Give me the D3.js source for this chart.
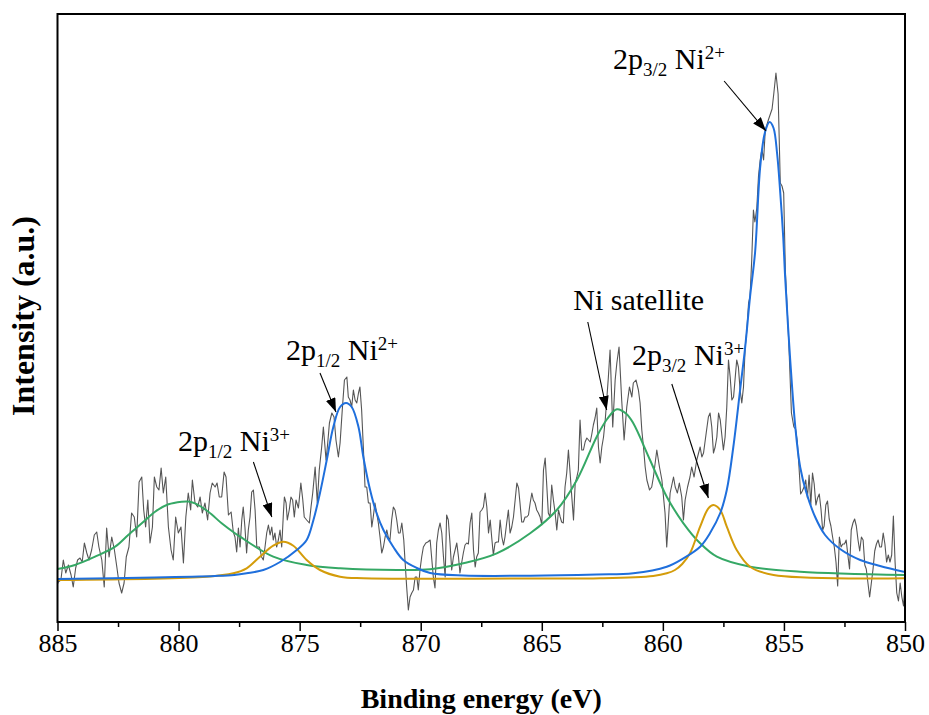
<!DOCTYPE html>
<html>
<head>
<meta charset="utf-8">
<script src="https://cdn.jsdelivr.net/npm/d3@7"></script>
<style>
  html, body { margin: 0; padding: 0; background: #fff; }
  svg { display: block; }
</style>
</head>
<body>
<svg id="chart" width="929" height="715"></svg>
<script>
// Ni 2p XPS spectrum: binding energy (eV) and measured intensity (a.u.)
const energy = [
  885.00,884.97,884.86,884.76,884.66,884.55,884.44,884.35,884.25,884.17,884.07,883.98,883.89,883.79,883.70,883.59,
  883.48,883.38,883.29,883.17,883.07,882.97,882.87,882.76,882.65,882.55,882.46,882.35,882.25,882.16,882.05,881.94,
  881.83,881.73,881.63,881.52,881.44,881.36,881.27,881.18,881.08,881.00,880.90,880.81,880.72,880.63,880.53,880.42,
  880.31,880.22,880.12,880.01,879.90,879.80,879.70,879.60,879.50,879.43,879.32,879.21,879.11,879.02,878.91,878.80,
  878.70,878.61,878.49,878.41,878.32,878.22,878.12,878.04,877.94,877.83,877.74,877.67,877.60,877.53,877.46,877.39,
  877.33,877.26,877.19,877.12,877.05,876.98,876.91,876.84,876.77,876.66,876.57,876.50,876.43,876.36,876.29,876.22,
  876.15,876.09,876.02,875.95,875.88,875.81,875.74,875.67,875.63,875.56,875.51,875.43,875.36,875.29,875.22,875.15,
  875.05,874.95,874.87,874.81,874.71,874.60,874.53,874.46,874.36,874.27,874.19,874.09,874.02,873.91,873.84,873.77,
  873.67,873.58,873.50,873.40,873.33,873.24,873.15,873.05,872.99,872.92,872.85,872.78,872.71,872.64,872.57,872.51,
  872.44,872.37,872.30,872.23,872.16,872.09,872.02,871.96,871.89,871.82,871.75,871.68,871.61,871.54,871.47,871.40,
  871.34,871.27,871.20,871.13,871.06,870.99,870.92,870.85,870.78,870.70,870.65,870.58,870.51,870.44,870.37,870.30,
  870.23,870.16,870.10,870.03,869.96,869.89,869.79,869.71,869.61,869.54,869.48,869.41,869.34,869.27,869.20,869.13,
  869.06,868.99,868.93,868.86,868.79,868.72,868.65,868.58,868.51,868.44,868.38,868.31,868.24,868.17,868.10,868.03,
  867.96,867.89,867.82,867.75,867.69,867.62,867.55,867.48,867.41,867.34,867.27,867.20,867.13,867.07,867.00,866.93,
  866.86,866.79,866.72,866.65,866.58,866.52,866.45,866.38,866.31,866.24,866.17,866.10,866.03,865.96,865.90,865.83,
  865.76,865.69,865.62,865.55,865.48,865.41,865.35,865.28,865.21,865.14,865.07,865.00,864.93,864.86,864.80,864.73,
  864.66,864.59,864.52,864.45,864.38,864.31,864.24,864.18,864.11,864.04,863.97,863.90,863.83,863.76,863.69,863.62,
  863.56,863.49,863.42,863.35,863.28,863.21,863.14,863.07,863.00,862.94,862.87,862.80,862.73,862.66,862.59,862.52,
  862.45,862.38,862.34,862.25,862.18,862.07,861.97,861.90,861.81,861.70,861.60,861.49,861.38,861.28,861.22,861.11,
  861.01,860.94,860.87,860.80,860.73,860.66,860.55,860.46,860.39,860.25,860.14,860.04,859.91,859.84,859.77,859.70,
  859.56,859.49,859.40,859.32,859.22,859.15,859.08,858.98,858.88,858.81,858.71,858.60,858.46,858.39,858.32,858.21,
  858.12,858.05,857.98,857.91,857.84,857.77,857.70,857.63,857.50,857.43,857.36,857.29,857.22,857.15,857.08,857.02,
  856.95,856.88,856.81,856.74,856.67,856.60,856.53,856.46,856.40,856.33,856.26,856.20,856.12,856.05,855.98,855.91,
  855.84,855.77,855.63,855.49,855.42,855.33,855.24,855.15,855.08,855.01,854.94,854.80,854.69,854.59,854.52,854.45,
  854.38,854.31,854.24,854.17,854.10,854.03,853.96,853.89,853.82,853.75,853.68,853.61,853.54,853.47,853.40,853.34,
  853.27,853.20,853.13,853.06,852.99,852.92,852.85,852.78,852.71,852.64,852.57,852.50,852.43,852.36,852.29,852.22,
  852.15,852.08,852.01,851.94,851.87,851.80,851.73,851.66,851.60,851.53,851.46,851.39,851.32,851.25,851.18,851.11,
  851.04,850.97,850.90,850.83,850.76,850.69,850.62,850.55,850.48,850.41,850.34,850.27,850.20,850.13,850.06,850.00
];
const counts = [
  38,40,42,62,49,57,47,35,54,62,64,60,79,69,62,72,
  87,90,75,62,35,94,65,85,72,55,39,29,39,65,75,109,
  105,85,140,145,112,95,122,79,95,145,135,132,154,129,145,95,
  72,62,105,89,95,59,105,129,112,142,119,115,125,109,119,102,
  129,139,135,139,125,125,150,145,107,110,90,85,70,94,75,102,
  115,95,69,92,105,130,132,112,75,75,65,62,75,89,97,87,
  95,82,89,75,82,92,75,109,125,119,102,112,125,122,105,122,
  114,139,122,105,102,99,115,129,155,119,152,175,195,162,179,199,
  209,205,182,165,179,212,242,245,225,222,215,232,222,219,229,235,
  212,175,135,135,119,119,95,105,119,109,99,85,69,75,85,92,
  85,82,102,115,112,102,89,89,99,82,62,35,12,25,29,32,
  45,45,32,52,65,75,79,80,82,62,45,34,79,92,99,89,
  65,45,107,102,79,52,65,72,79,65,49,59,69,77,79,78,
  99,109,72,55,65,69,110,112,115,129,115,89,102,85,67,79,
  80,80,102,85,77,85,99,112,89,95,105,122,139,134,119,100,
  100,105,105,107,119,129,122,119,112,109,105,97,152,164,139,109,
  105,137,122,109,92,112,105,100,99,135,149,172,149,125,102,139,
  144,152,202,172,172,180,184,182,180,187,197,204,214,175,159,175,
  185,202,215,245,272,195,242,259,275,222,182,215,235,225,239,242,
  232,219,192,175,155,142,132,135,145,172,155,142,109,75,102,129,
  145,135,129,139,125,102,122,135,145,155,145,162,175,165,169,189,
  205,209,195,169,175,185,209,202,172,185,215,262,245,222,225,242,
  262,255,232,219,235,275,292,319,325,362,412,400,414,446,462,473,
  462,492,503,513,528,549,528,439,436,429,351,280,209,195,193,181,
  156,128,131,135,142,124,147,117,149,138,117,124,128,113,92,96,
  117,121,103,96,85,75,60,36,85,75,78,78,82,67,53,92,
  99,103,96,82,71,85,82,57,53,39,25,39,53,71,78,82,
  75,75,89,78,60,67,60,67,106,60,29,21,39,25,16,40
];

// Fitted component: Ni2+ (2p3/2 and 2p1/2 main lines)
const ni2Energy = [885.0,881.0,878.5,877.7,877.19,876.5,875.81,875.12,874.71,874.43,874.16,873.88,873.61,873.33,873.08,
  872.85,872.57,872.37,872.09,871.82,871.54,871.13,870.72,870.16,869.61,868.24,865.48,862.73,861.22,859.84,859.15,
  858.46,858.05,857.63,857.36,857.09,856.81,856.60,856.40,856.19,855.98,855.78,855.59,855.43,855.28,855.16,855.03,
  854.95,854.74,854.53,854.33,854.08,853.71,853.30,852.68,851.85,851.03,850.0];
const ni2Counts = [43,44.5,46,47,48.7,52,60,72,82,102,129,162,195,215,219,
  215,195,165,132,108.7,92,75,62,54,49,46.5,46.3,47.5,48.7,55.3,63.7,
  75.3,89,109,132,175,232,275,325,370,455,490,500,494,468,432,385,
  345,262,195,155,130,105,87,73,62,56,50];

// Fitted component: Ni shake-up satellites
const satEnergy = [885.0,884.28,883.45,882.62,882.08,881.52,880.97,880.42,879.87,879.6,879.32,878.77,878.22,877.67,
  877.46,876.09,874.71,873.33,870.99,869.61,868.24,866.86,865.48,864.38,863.55,862.73,862.3,861.9,861.5,861.22,
  860.53,859.84,859.15,858.46,857.77,856.40,854.33,850.0];
const satCounts = [53,57,65.3,75.3,87,98.7,110.3,117.7,120.3,120.5,118.7,110.3,98.7,88.7,
  85.3,65.3,57,53.7,52,52.7,58.7,68.7,88.7,112,142,185.3,203,212.7,208,198.7,
  162,125.3,98.7,78.7,65.3,55.3,50.3,47];

// Fitted component: Ni3+ (2p3/2 and 2p1/2)
const ni3Energy = [885.0,878.84,877.74,877.19,876.64,876.09,875.67,875.26,874.71,874.16,873.33,872.37,866.0,862.59,
  860.4,859.84,859.5,859.2,858.88,858.46,858.12,857.91,857.63,857.36,856.95,856.40,855.43,850.0];
const ni3Counts = [42,45.3,48.7,53.7,65.3,76.3,80.3,76.3,62,52,45.3,43.7,43.5,43.7,
  46,48.7,52,58,68.7,95.3,113.7,117,112,95.3,72,55.3,47,43.7];

const majorTicks = [885, 880, 875, 870, 865, 860, 855, 850];
const minorTicks = [882.5, 877.5, 872.5, 867.5, 862.5, 857.5, 852.5];

// Peak labels: text pieces (base / sub / sup) and arrows, placed in data units
const labels = [
  { parts: [["2p",""],["3/2","sub"],[" Ni",""],["2+","sup"]], at: [862.06, 553], from: [857.47, 541], to: [855.74, 491] },
  { parts: [["Ni satellite",""]],                             at: [863.70, 312], from: [863.10, 300], to: [862.32, 212] },
  { parts: [["2p",""],["3/2","sub"],[" Ni",""],["3+","sup"]], at: [861.27, 257], from: [859.63, 238], to: [858.12, 124] },
  { parts: [["2p",""],["1/2","sub"],[" Ni",""],["2+","sup"]], at: [875.56, 262], from: [874.16, 249], to: [873.50, 210] },
  { parts: [["2p",""],["1/2","sub"],[" Ni",""],["3+","sup"]], at: [880.02, 171], from: [876.91, 160], to: [876.15, 105] }
];

const margin = { left: 57.5, right: 905, top: 14, bottom: 622 };
const svg = d3.select("#chart");
const serif = "'Liberation Serif', 'Times New Roman', serif";

const x = d3.scaleLinear().domain([885, 850]).range([margin.left, margin.right]);
const y = d3.scaleLinear().domain([0, 608]).range([margin.bottom, margin.top]);

svg.append("defs").append("clipPath").attr("id", "plotClip")
  .append("rect")
  .attr("x", margin.left).attr("y", margin.top)
  .attr("width", margin.right - margin.left).attr("height", margin.bottom - margin.top);

const plot = svg.append("g").attr("clip-path", "url(#plotClip)");

// measured spectrum
const raw = energy.map((e, i) => [e, counts[i]]);
plot.append("path")
  .datum(raw)
  .attr("fill", "none")
  .attr("stroke", "#555555")
  .attr("stroke-width", 1.1)
  .attr("stroke-linejoin", "round")
  .attr("d", d3.line().x(d => x(d[0])).y(d => y(d[1])));

// fitted components
const fitLine = d3.line().x(d => x(d[0])).y(d => y(d[1])).curve(d3.curveCatmullRom.alpha(0.5));
const fits = [
  { e: satEnergy, c: satCounts, color: "#35a865" },
  { e: ni3Energy, c: ni3Counts, color: "#d49c0a" },
  { e: ni2Energy, c: ni2Counts, color: "#1f6fdc" }
];
fits.forEach(f => {
  plot.append("path")
    .datum(f.e.map((e, i) => [e, f.c[i]]))
    .attr("fill", "none")
    .attr("stroke", f.color)
    .attr("stroke-width", 2)
    .attr("d", fitLine);
});

// frame
svg.append("rect")
  .attr("x", margin.left).attr("y", margin.top)
  .attr("width", margin.right - margin.left).attr("height", margin.bottom - margin.top)
  .attr("fill", "none").attr("stroke", "#000").attr("stroke-width", 2);

// bottom axis
const axis = d3.axisBottom(x).tickValues(majorTicks).tickSize(9).tickPadding(3).tickFormat(d3.format("d"));
const gx = svg.append("g").attr("transform", `translate(0,${margin.bottom})`).call(axis);
gx.select(".domain").remove();
gx.selectAll(".tick line").attr("stroke", "#000").attr("stroke-width", 1.5);
gx.selectAll(".tick text")
  .attr("font-family", serif)
  .attr("font-size", 26).attr("fill", "#000");

const gm = svg.append("g").attr("transform", `translate(0,${margin.bottom})`)
  .call(d3.axisBottom(x).tickValues(minorTicks).tickSize(5).tickFormat(""));
gm.select(".domain").remove();
gm.selectAll(".tick line").attr("stroke", "#000").attr("stroke-width", 1.5);

// axis titles
svg.append("text")
  .attr("x", (margin.left + margin.right) / 2).attr("y", 708)
  .attr("text-anchor", "middle")
  .attr("font-family", serif)
  .attr("font-weight", "bold").attr("font-size", 28)
  .text("Binding energy (eV)");

svg.append("text")
  .attr("transform", `translate(34,${316}) rotate(-90)`)
  .attr("text-anchor", "middle")
  .attr("font-family", serif)
  .attr("font-weight", "bold").attr("font-size", 32)
  .text("Intensity (a.u.)");

// arrowhead marker
svg.select("defs").append("marker")
  .attr("id", "arrowHead")
  .attr("viewBox", "0 0 14 10")
  .attr("refX", 14).attr("refY", 5)
  .attr("markerWidth", 14).attr("markerHeight", 10)
  .attr("markerUnits", "userSpaceOnUse")
  .attr("orient", "auto")
  .append("path").attr("d", "M0,0 L14,5 L0,10 Z").attr("fill", "#000");

// peak labels
labels.forEach(l => {
  const t = svg.append("text")
    .attr("x", x(l.at[0])).attr("y", y(l.at[1]))
    .attr("font-family", serif)
    .attr("font-size", 30).attr("fill", "#000");
  let shift = 0;
  l.parts.forEach(([s, kind]) => {
    const target = kind === "sub" ? 7 : kind === "sup" ? -10 : 0;
    t.append("tspan")
      .attr("dy", target - shift)
      .attr("font-size", kind ? 19 : 30)
      .attr("xml:space", "preserve")
      .text(s);
    shift = target;
  });
  svg.append("line")
    .attr("x1", x(l.from[0])).attr("y1", y(l.from[1]))
    .attr("x2", x(l.to[0])).attr("y2", y(l.to[1]))
    .attr("stroke", "#000").attr("stroke-width", 1.1)
    .attr("marker-end", "url(#arrowHead)");
});
</script>
</body>
</html>
